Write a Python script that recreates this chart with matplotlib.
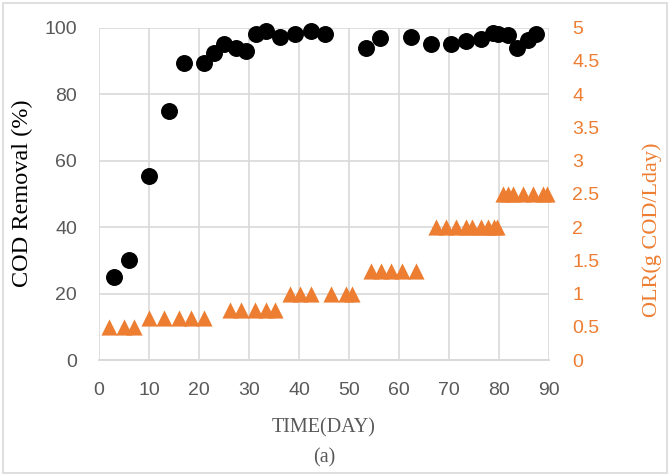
import numpy as np
import matplotlib.pyplot as plt
from matplotlib.patches import Rectangle

# COD removal efficiency (%) vs. time
day_cod = [3, 6, 10, 14, 17, 21, 23, 25, 27.3, 29.3, 31.3, 33.3, 36.3, 39.3,
           42.4, 45.3, 53.5, 56.3, 62.5, 66.5, 70.5, 73.5, 76.5, 78.8, 79.8,
           81.8, 83.6, 85.8, 87.5]
cod_removal = [25, 30, 55.4, 75, 89.3, 89.3, 92.2, 95.1, 94, 93, 98, 99, 97.2,
               98, 99, 98, 94, 97, 97.3, 95.2, 95.2, 96, 96.5, 98.3, 98.2,
               97.7, 94, 96.2, 98.2]

# Organic loading rate (g COD/L.day) vs. time
day_olr = [2, 5, 7,
           10, 13, 16, 18.3, 21,
           26.2, 28.3, 31.2, 33.3, 35.2,
           38.3, 40.3, 42.5, 46.5, 49.4, 50.6,
           54.5, 56.5, 58.5, 60.6, 63.5,
           67.5, 69.5, 71.5, 73.5, 74.7, 76.5, 77.8, 79, 79.7,
           80.8, 81.8, 82.8, 84.8, 86.8, 88.8, 89.6]
olr = [0.5, 0.5, 0.5,
       0.625, 0.625, 0.625, 0.625, 0.625,
       0.75, 0.75, 0.75, 0.75, 0.75,
       1.0, 1.0, 1.0, 1.0, 1.0, 1.0,
       1.333, 1.333, 1.333, 1.333, 1.333,
       2.0, 2.0, 2.0, 2.0, 2.0, 2.0, 2.0, 2.0, 2.0,
       2.5, 2.5, 2.5, 2.5, 2.5, 2.5, 2.5]

x_ticks = np.arange(0, 91, 10)
y_ticks = np.arange(0, 101, 20)
olr_ticks = np.arange(0, 5.01, 0.5)

grey = '#595959'
orange = '#ED7D31'
grid_c = '#D9D9D9'
tick_font = 'Liberation Sans'
label_font = 'Liberation Serif'

W, H = 670, 475
fig = plt.figure(figsize=(6.7, 4.75), dpi=100)
ax = fig.add_axes([0.148, 0.242, 0.671, 0.700])
ax2 = ax.twinx()

ax.scatter(day_cod, cod_removal, s=125, color='black', zorder=3, clip_on=False)
ax2.scatter(day_olr, olr, s=135, marker='^', color=orange, zorder=3,
            clip_on=False, linewidths=0)

ax.set_xlim(0, 90)
ax.set_ylim(0, 100)
ax2.set_ylim(0, 5)
ax.set_xticks(x_ticks)
ax.set_yticks(y_ticks)
ax2.set_yticks(olr_ticks)
ax2.set_yticklabels(['%g' % v for v in olr_ticks])

ax.grid(True, color=grid_c, linewidth=1.2)
ax.set_axisbelow(True)
for a in (ax, ax2):
    for s in ['top', 'right', 'left']:
        a.spines[s].set_visible(False)
    a.spines['bottom'].set_color(grid_c)
    a.spines['bottom'].set_linewidth(1.2)
    a.tick_params(length=0)

for label in ax.get_xticklabels() + ax.get_yticklabels():
    label.set_fontfamily(tick_font)
    label.set_fontsize(14)
    label.set_color(grey)
for label in ax2.get_yticklabels():
    label.set_fontfamily(tick_font)
    label.set_fontsize(14)
    label.set_color(orange)
ax.tick_params(axis='x', pad=16)
ax.tick_params(axis='y', pad=16)
ax2.tick_params(axis='y', pad=17)

# axis titles placed in figure pixels
fig.text(22 / W, 1 - 193 / H, 'COD Removal (%)', fontfamily=label_font,
         fontsize=17.5, color='black', rotation=90, ha='center', va='center')
fig.text(652 / W, 1 - 230 / H, 'OLR(g COD/Lday)', fontfamily=label_font,
         fontsize=16, color=orange, rotation=90, ha='center', va='center')
fig.text(324 / W, 1 - 428 / H, 'TIME(DAY)', fontfamily=label_font,
         fontsize=14.5, color=grey, ha='center', va='center')
fig.text(324 / W, 1 - 458 / H, '(a)', fontfamily=label_font,
         fontsize=14.5, color=grey, ha='center', va='center')

# chart border
fig.patches.append(Rectangle((0.004, 0.005), 0.992, 0.988, transform=fig.transFigure,
                             fill=False, edgecolor=grid_c, linewidth=1.2))

plt.savefig('out.png', dpi=100)
